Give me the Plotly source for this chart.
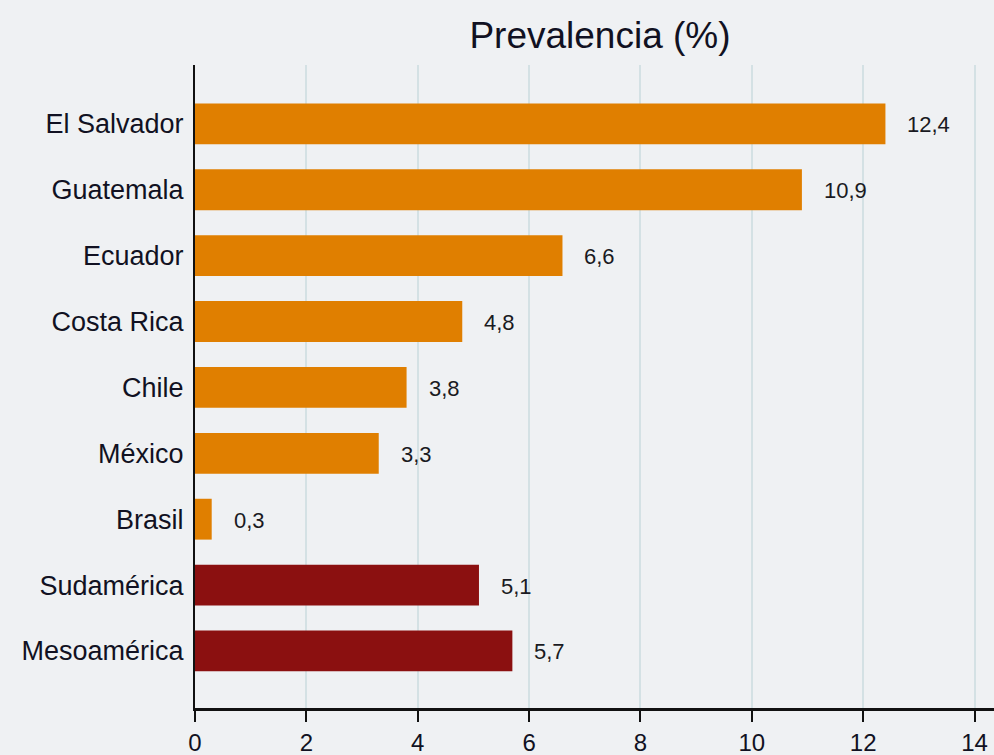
import plotly.graph_objects as go

categories = ["El Salvador", "Guatemala", "Ecuador", "Costa Rica", "Chile",
              "México", "Brasil", "Sudamérica", "Mesoamérica"]
values = [12.4, 10.9, 6.6, 4.8, 3.8, 3.3, 0.3, 5.1, 5.7]
labels = ["12,4", "10,9", "6,6", "4,8", "3,8", "3,3", "0,3", "5,1", "5,7"]
groups = ["país"] * 7 + ["región"] * 2
x_ticks = [0, 2, 4, 6, 8, 10, 12, 14]

ORANGE = "#e07f00"
DARKRED = "#8b1010"
BG = "#eff1f3"
FONT = "Liberation Sans, Arial, sans-serif"

colors = [ORANGE if g == "país" else DARKRED for g in groups]

fig = go.Figure()
fig.add_trace(go.Bar(
    x=values, y=categories, orientation="h",
    marker=dict(color=colors, line=dict(width=0)),
    width=0.62, hoverinfo="skip", showlegend=False,
))

for cat, v, lab in zip(categories, values, labels):
    fig.add_annotation(x=v, y=cat, text=lab, showarrow=False,
                       xanchor="left", yanchor="middle", xshift=20, yshift=-1,
                       font=dict(family=FONT, size=22, color="#1a1a22"))

fig.update_layout(
    width=994, height=755,
    paper_bgcolor=BG, plot_bgcolor=BG,
    margin=dict(l=195, r=0, t=65, b=47, pad=0, autoexpand=False),
    title=dict(text="Prevalencia (%)", x=0.6036, xref="container", xanchor="center",
               y=1 - 35 / 755, yref="container", yanchor="middle",
               font=dict(family=FONT, size=37, color="#111122")),
    font=dict(family=FONT, color="#111122"),
    bargap=0.38,
)
fig.update_xaxes(
    range=[0, 14.35], tickvals=x_ticks, ticktext=[str(t) for t in x_ticks],
    showgrid=True, gridcolor="#d4e1e4", gridwidth=1.5,
    showline=True, linecolor="#111111", linewidth=2.5,
    ticks="outside", ticklen=11, tickwidth=2, tickcolor="#111111",
    ticklabelstandoff=0, automargin=False,
    tickfont=dict(family=FONT, size=24, color="#111122"),
    zeroline=False, fixedrange=True,
)
fig.update_yaxes(
    type="category", categoryorder="array", categoryarray=categories,
    range=[8.866, -0.894], automargin=False,
    showgrid=False, showline=True, linecolor="#111111", linewidth=2,
    ticks="", ticklabelstandoff=4,
    tickfont=dict(family=FONT, size=27, color="#111122"),
    zeroline=False, fixedrange=True,
)

fig.write_html(
    "out.html",
    config={"displayModeBar": False},
    post_script="document.body.style.margin='0';document.body.style.overflow='hidden';"
                "document.body.style.background='" + BG + "';",
)
